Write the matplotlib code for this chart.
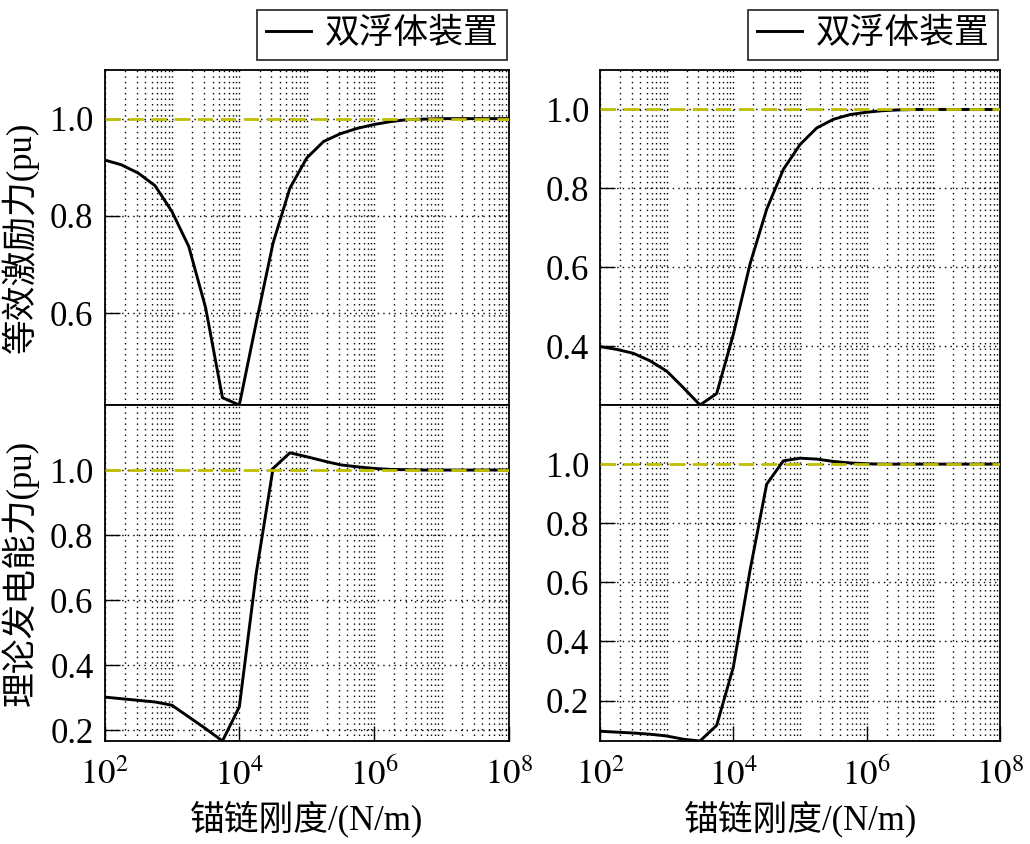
import numpy as np
import matplotlib
matplotlib.use('Agg')
import matplotlib.pyplot as plt
from matplotlib.ticker import LogLocator, FixedLocator, FuncFormatter, NullFormatter

plt.rcParams['font.family'] = ['Liberation Serif', 'Noto Sans CJK SC']
plt.rcParams['mathtext.fontset'] = 'stix'
plt.rcParams['axes.unicode_minus'] = False

# stiffness exponents (k = 10**exp, N/m)
k_exp = [2.0, 2.25, 2.5, 2.75, 3.0, 3.25, 3.5, 3.75, 4.0, 4.25, 4.5, 4.75, 5.0,
         5.25, 5.5, 5.75, 6.0, 6.25, 6.5, 6.75, 7.0, 7.25, 7.5, 7.75, 8.0]

# equivalent excitation force (pu)
force_left = [0.915, 0.905, 0.888, 0.862, 0.809, 0.737, 0.611, 0.426, 0.411, 0.580,
              0.744, 0.857, 0.919, 0.953, 0.969, 0.980, 0.988, 0.994, 0.998, 0.999,
              1.0, 1.0, 1.0, 1.0, 1.0]
force_right = [0.399, 0.392, 0.382, 0.363, 0.337, 0.295, 0.251, 0.280, 0.430, 0.608,
               0.747, 0.848, 0.911, 0.953, 0.975, 0.987, 0.993, 0.997, 0.999, 1.0,
               1.0, 1.0, 1.0, 1.0, 1.0]

# theoretical generating capacity (pu)
power_left = [0.302, 0.297, 0.292, 0.287, 0.277, 0.241, 0.205, 0.167, 0.272, 0.682,
              1.005, 1.053, 1.041, 1.028, 1.016, 1.010, 1.005, 1.002, 1.001, 1.0,
              1.0, 1.0, 1.0, 1.0, 1.0]
power_right = [0.096, 0.093, 0.090, 0.086, 0.080, 0.069, 0.063, 0.116, 0.313, 0.640,
               0.932, 1.011, 1.020, 1.017, 1.009, 1.004, 1.001, 1.0, 1.0, 1.0,
               1.0, 1.0, 1.0, 1.0, 1.0]

ylabel_top = '等效激励力(pu)'
ylabel_bot = '理论发电能力(pu)'
xlabel = '锚链刚度/(N/m)'
legend_label = '双浮体装置'

k = 10 ** np.array(k_exp)
fs = 25

fig = plt.figure(figsize=(10.3, 8.44), dpi=100)
W, H = 1030, 844

def make_ax(x0, x1, y0, y1):
    return fig.add_axes([x0 / W, 1 - y1 / H, (x1 - x0) / W, (y1 - y0) / H])

axes = [
    (make_ax(104.5, 509, 70, 405), force_left, 1.1, [0.6, 0.8, 1.0], True, ylabel_top),
    (make_ax(600, 1000, 70, 405), force_right, 1.1, [0.4, 0.6, 0.8, 1.0], True, None),
    (make_ax(104.5, 509, 405, 741), power_left, 1.2, [0.2, 0.4, 0.6, 0.8, 1.0], False, ylabel_bot),
    (make_ax(600, 1000, 405, 741), power_right, 1.2, [0.2, 0.4, 0.6, 0.8, 1.0], False, None),
]

for ax, y, ytop, yt, is_top, ylab in axes:
    ax.plot(k, y, color='black', lw=2.1, label=legend_label, zorder=3)
    ax.axhline(1.0, color=(0.75, 0.75, 0.0), lw=2.0, ls=(0, (5.5, 2.8)), zorder=4)
    ax.set_xscale('log')
    ax.set_xlim(1e2, 1e8)
    ax.set_ylim(min(y), ytop)
    ax.xaxis.set_major_locator(FixedLocator([1e2, 1e4, 1e6, 1e8]))
    ax.xaxis.set_minor_locator(LogLocator(base=10, subs=np.arange(1, 10), numticks=50))
    ax.xaxis.set_minor_formatter(NullFormatter())
    ax.xaxis.set_major_formatter(FuncFormatter(lambda v, p: r'$10^{%d}$' % round(np.log10(v))))
    ax.yaxis.set_major_locator(FixedLocator(yt))
    ax.yaxis.set_major_formatter(FuncFormatter(lambda v, p: '%.1f' % v))
    ax.grid(True, which='both', axis='x', color='black', ls=(0, (1, 3)), lw=1.0)
    ax.grid(True, which='major', axis='y', color='black', ls=(0, (1, 3)), lw=1.0)
    ax.tick_params(axis='both', which='major', direction='in', length=11, width=1.0,
                   labelsize=fs, pad=8)
    ax.tick_params(axis='x', which='minor', length=0)
    ax.tick_params(axis='x', which='major', pad=13)
    for s in ax.spines.values():
        s.set_linewidth(1.3)
    if is_top:
        ax.tick_params(axis='x', which='both', length=0, labelbottom=False)
        leg = ax.legend(loc='lower right', bbox_to_anchor=(0.995, 1.03), borderaxespad=0,
                        fontsize=fs, frameon=True, fancybox=False, handlelength=1.3,
                        handletextpad=0.4, borderpad=0.25)
        leg.get_frame().set_edgecolor('black')
        leg.get_frame().set_linewidth(1.3)
    else:
        ax.set_xlabel(xlabel, fontsize=fs, labelpad=5)
    if ylab:
        ax.set_ylabel(ylab, fontsize=fs, labelpad=8)

fig.savefig('out.png', dpi=100)
